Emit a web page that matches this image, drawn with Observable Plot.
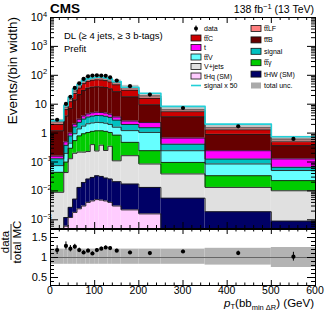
<!DOCTYPE html>
<html><head><meta charset="utf-8">
<script src="https://cdn.jsdelivr.net/npm/d3@7"></script>
<script src="https://cdn.jsdelivr.net/npm/@observablehq/plot@0.6"></script>
<style>
body{margin:0;background:#fff;}
#wrap{position:relative;width:332px;height:325px;overflow:hidden;font-family:"Liberation Sans",Arial,sans-serif;}
#wrap svg{position:absolute;left:0;}
</style></head><body><div id="wrap"></div>
<script>
// ---------- data ----------
const binEdges = [0,30,40,50,60,70,80,90,100,110,120,130,140,160,200,250,350,500,600];
// stacked backgrounds, events / GeV (bottom -> top)
const tHq    = [0.00005,0.0006,0.0012,0.0018,0.0024,0.003,0.004,0.0045,0.005,0.0048,0.0045,0.004,0.003,0.0022,0.0016,0.0004,0.0002,0.0001];
const tHW    = [0.0001,0.0006,0.0015,0.0034,0.0108,0.0166,0.0218,0.0248,0.0285,0.0269,0.0234,0.0218,0.0178,0.0151,0.0116,0.0052,0.0017,0.0008];
const Vjets  = [0.0088,0.042,0.127,0.195,0.207,0.2,0.204,0.37,0.207,0.35,0.222,0.324,0.089,0.148,0.072,0.033,0.0113,0.0092];
const ttgam  = [0.035,0.056,0.17,0.35,0.58,0.73,0.82,0.75,0.96,0.82,0.9,0.7,0.74,0.313,0.161,0.058,0.0203,0.0126];
const ttV    = [0.031,0.1,0.15,0.4,0.6,0.8,1.05,1.1,1.15,1.1,1.05,0.95,0.75,0.74,0.81,0.149,0.052,0.028];
const signal = [0.054,0.178,0.346,0.676,0.954,1.31,1.5,1.63,1.71,1.71,1.63,1.5,1.21,0.77,0.48,0.168,0.041,0.015];
const tsingle= [0.03,0.12,0.2,0.4,0.65,0.85,1.0,1.15,1.2,1.15,1.1,1.0,0.8,0.63,0.78,0.258,0.119,0.062];
const ttB    = [1.04,3.4,6.2,12,18.5,26,31.4,34,34.7,34.3,32.6,29.5,23.4,15.4,7.2,3.0,0.66,0.24];
const ttC    = [0.8,2.6,5.0,9.5,14.8,21.5,26,28.5,30,29.5,28,25,20,12.5,6.4,1.85,0.4,0.15];
const ttLF   = [0.45,1.4,2.6,5.0,7.7,11.5,14,14.5,14,14,13.5,12,10,6.5,3.5,0.9,0.23,0.1];
// data
const dataVals  = [2.9,10.2,18,36.6,53,75,92,98,100,98,96,85,66,42,21.5,7.4,1.71,0.63];
const ratioVals = [1.185,1.29,1.22,1.27,1.185,1.125,1.17,1.10,1.185,1.22,1.25,1.235,1.17,1.125,1.11,1.15,1.11,1.02];
const ratioErr  = [0.11,0.1,0.08,0.06,0.05,0.045,0.04,0.04,0.04,0.04,0.04,0.04,0.035,0.035,0.035,0.035,0.05,0.11];
// total uncertainty (relative)
const uncUp = [0.21,0.21,0.21,0.21,0.21,0.21,0.21,0.21,0.21,0.21,0.21,0.21,0.21,0.21,0.21,0.21,0.23,0.25];
const uncDn = [0.17,0.17,0.17,0.17,0.17,0.17,0.17,0.17,0.17,0.17,0.17,0.17,0.17,0.17,0.17,0.17,0.19,0.25];
const signalScale = 50;

const layerVals   = [tHq,tHW,Vjets,ttgam,ttV,signal,tsingle,ttB,ttC,ttLF];
const layerColors = ["#ffccff","#000066","#e0e0e0","#00cc00","#66ffff","#00c0c0","#ff00ff","#660000","#cc0000","#ff7f7f"];

const xTickVals = [0,100,200,300,400,500,600];
const yDecades = [1e-3,1e-2,1e-1,1,10,100,1e3,1e4];
const yTickLabels = [["10","-3"],["10","-2"],["10","-1"],["1",""],["10",""],["10","2"],["10","3"],["10","4"]];
const ratioTicks = [0.5,1,1.5];

// ---------- build tables ----------
const nb = binEdges.length-1;
const lo = binEdges.slice(0,-1), hi = binEdges.slice(1);
const YMIN = 5e-4, YMAX = 1e4;
const rects = [], steps = [];
const cum = new Array(nb).fill(0);
layerVals.forEach((arr,k)=>{
  for(let i=0;i<nb;i++){
    const b = cum[i], t = cum[i]+arr[i];
    rects.push({x1:lo[i],x2:hi[i],y1:Math.max(b,1e-7),y2:t,layer:k});
    steps.push({x:lo[i],y:t,layer:k},{x:hi[i],y:t,layer:k});
    cum[i]=t;
  }
});
const total = cum.slice();
const bins = d3.range(nb).map(i=>({x1:lo[i],x2:hi[i],xc:(lo[i]+hi[i])/2,tot:total[i],
  up:uncUp[i],dn:uncDn[i],d:dataVals[i],r:ratioVals[i],re:ratioErr[i],s:signal[i]*signalScale}));
const sigSteps = bins.flatMap(b=>[{x:b.x1,y:b.s},{x:b.x2,y:b.s}]);

// minor ticks
const xMinor = d3.range(0,601,20).filter(v=>v%100!==0);
const yMinor = [];
for(let e=-4;e<4;e++) for(let m=2;m<10;m++){const v=m*Math.pow(10,e); if(v>YMIN&&v<YMAX) yMinor.push(v);}
const rMinor = d3.range(0.3,1.71,0.1).map(v=>+v.toFixed(2)).filter(v=>!ratioTicks.includes(v));

const W=332, mL=50, mR=17;
const mainTop=17, mainBottom=228;
const FH = mainBottom-mainTop, FW = W-mL-mR;

const mainPlot = Plot.plot({
  width:W, height:mainBottom+1, marginLeft:mL, marginRight:mR, marginTop:mainTop, marginBottom:1,
  style:{background:"transparent",overflow:"visible"},
  x:{domain:[0,600], axis:null},
  y:{type:"log", domain:[YMIN,YMAX], axis:null},
  marks:[
    Plot.rect(rects,{x1:"x1",x2:"x2",y1:"y1",y2:"y2",fill:d=>layerColors[d.layer],clip:true}),
    Plot.line(steps,{x:"x",y:"y",z:"layer",stroke:"#1a1a1a",strokeWidth:0.9,clip:true}),
    Plot.rect(bins,{x1:"x1",x2:"x2",y1:d=>d.tot*(1-d.dn),y2:d=>d.tot*(1+d.up),fill:"#8a8a8a",fillOpacity:0.5,clip:true}),
    Plot.line(sigSteps,{x:"x",y:"y",stroke:"#22d0d8",strokeWidth:1.6,clip:true}),
    Plot.ruleX(bins,{x:"xc",y1:d=>d.d*(1-d.re/d.r),y2:d=>d.d*(1+d.re/d.r),stroke:"black",strokeWidth:1}),
    Plot.dot(bins,{x:"xc",y:"d",r:2.1,fill:"black"}),
    // inner ticks
    Plot.ruleX(xTickVals,{insetTop:FH-6,stroke:"black"}),
    Plot.ruleX(xTickVals,{insetBottom:FH-6,stroke:"black"}),
    Plot.ruleX(xMinor,{insetTop:FH-3,stroke:"black"}),
    Plot.ruleX(xMinor,{insetBottom:FH-3,stroke:"black"}),
    Plot.ruleY(yDecades,{insetRight:FW-8,stroke:"black"}),
    Plot.ruleY(yDecades,{insetLeft:FW-8,stroke:"black"}),
    Plot.ruleY(yMinor,{insetRight:FW-4,stroke:"black"}),
    Plot.ruleY(yMinor,{insetLeft:FW-4,stroke:"black"}),
    Plot.frame({stroke:"black",strokeWidth:1})
  ]
});
mainPlot.style.top="0px";

const rTop=229, rBottom=285, RH=rBottom-rTop;
const ratioPlot = Plot.plot({
  width:W, height:325-228, marginLeft:mL, marginRight:mR, marginTop:rTop-228, marginBottom:325-rBottom,
  style:{background:"transparent",overflow:"visible"},
  x:{domain:[0,600], axis:null},
  y:{domain:[0.3,1.7], axis:null},
  marks:[
    Plot.rect(bins,{x1:"x1",x2:"x2",y1:d=>1-d.dn,y2:d=>1+d.up,fill:"#b3b3b3"}),
    Plot.ruleY([1],{stroke:"#666",strokeWidth:1}),
    Plot.ruleX(bins,{x:"xc",y1:d=>d.r-d.re,y2:d=>d.r+d.re,stroke:"black",strokeWidth:1}),
    Plot.dot(bins,{x:"xc",y:"r",r:2.1,fill:"black"}),
    Plot.ruleX(xTickVals,{insetTop:RH-5,stroke:"black"}),
    Plot.ruleX(xTickVals,{insetBottom:RH-5,stroke:"black"}),
    Plot.ruleX(xMinor,{insetTop:RH-2.5,stroke:"black"}),
    Plot.ruleX(xMinor,{insetBottom:RH-2.5,stroke:"black"}),
    Plot.ruleY(ratioTicks,{insetRight:FW-8,stroke:"black"}),
    Plot.ruleY(ratioTicks,{insetLeft:FW-8,stroke:"black"}),
    Plot.ruleY(rMinor,{insetRight:FW-4,stroke:"black"}),
    Plot.ruleY(rMinor,{insetLeft:FW-4,stroke:"black"}),
    Plot.frame({stroke:"black",strokeWidth:1})
  ]
});
ratioPlot.style.top="228px";

const wrap = document.getElementById("wrap");
wrap.appendChild(mainPlot);
wrap.appendChild(ratioPlot);

// ---------- text overlay ----------
const ys = mainPlot.scale("y"), ry = ratioPlot.scale("y"), rx = ratioPlot.scale("x");
const ov = d3.select(wrap).append("svg").attr("width",W).attr("height",325)
  .style("top","0px").style("pointer-events","none")
  .style("font-family","Liberation Sans, Arial, sans-serif");

// main y tick labels
yDecades.forEach((v,i)=>{
  const [b,e]=yTickLabels[i];
  ov.append("text").attr("x",e?43:47).attr("y",ys.apply(v)+4).attr("text-anchor","end")
    .attr("font-size",11).text(b);
  if(e){ ov.append("text").attr("x",43).attr("y",ys.apply(v)-0.5).attr("font-size",7.5).text(e.replace("-","\u2212")); }
});
// ratio y tick labels
ratioTicks.forEach(v=>{
  ov.append("text").attr("x",47).attr("y",228+ry.apply(v)+4).attr("text-anchor","end").attr("font-size",11).text(String(v));
});
// x tick labels
xTickVals.forEach(v=>{
  ov.append("text").attr("x",rx.apply(v)).attr("y",294).attr("text-anchor","middle").attr("font-size",10.5).text(String(v));
});

// titles
ov.append("text").attr("x",50).attr("y",13).attr("font-size",13.5).attr("font-weight","bold").text("CMS");
const lumi = ov.append("text").attr("x",314).attr("y",13).attr("text-anchor","end").attr("font-size",10.5);
lumi.append("tspan").text("138 fb");
lumi.append("tspan").attr("dy",-4).attr("font-size",7.5).text("\u22121");
lumi.append("tspan").attr("dy",4).text(" (13 TeV)");

ov.append("text").attr("x",64).attr("y",38.5).attr("font-size",9.5).text("DL (\u2265 4 jets, \u2265 3 b-tags)");
ov.append("text").attr("x",64).attr("y",52).attr("font-size",9.5).text("Prefit");

// y title
ov.append("text").attr("transform","translate(17,17) rotate(-90)").attr("text-anchor","end")
  .attr("font-size",13.5).text("Events/(bin width)");
// ratio title (fraction)
const fr = ov.append("g").attr("transform","translate(11,242) rotate(-90)");
fr.append("text").attr("x",0).attr("y",-2.5).attr("text-anchor","middle").attr("font-size",11.5).text("data");
fr.append("line").attr("x1",-18).attr("x2",18).attr("y1",0).attr("y2",0).attr("stroke","black").attr("stroke-width",0.8);
fr.append("text").attr("x",0).attr("y",9.5).attr("text-anchor","middle").attr("font-size",11.5).text("total MC");

// x title
const xt = ov.append("text").attr("x",314).attr("y",306.5).attr("text-anchor","end").attr("font-size",11.5);
xt.append("tspan").attr("font-style","italic").text("p");
xt.append("tspan").attr("dy",2.5).attr("font-size",7.5).text("T");
xt.append("tspan").attr("dy",-2.5).text("(bb");
xt.append("tspan").attr("dy",3.5).attr("font-size",7.5).text("min \u0394R");
xt.append("tspan").attr("dy",-3.5).text(") (GeV)");

// legend
const legL = [
  {name:"data",type:"data"},
  {name:"tt\u0305C",color:layerColors[8]},
  {name:"t",color:layerColors[6]},
  {name:"tt\u0305V",color:layerColors[4]},
  {name:"V+jets",color:layerColors[2]},
  {name:"tHq (SM)",color:layerColors[0]},
  {name:"signal x 50",type:"line"}
];
const legR = [
  {name:"tt\u0305LF",color:layerColors[9]},
  {name:"tt\u0305B",color:layerColors[7]},
  {name:"signal",color:layerColors[5]},
  {name:"tt\u0305\u03b3",color:layerColors[3]},
  {name:"tHW (SM)",color:layerColors[1]},
  {name:"total unc.",color:"#aaaaaa",noStroke:true}
];
function drawLegend(items,x0,yTop,yBot){
  const step=(yBot-yTop)/(items.length-1);
  items.forEach((it,i)=>{
    const y=yTop+i*step;
    if(it.type==="data"){
      ov.append("circle").attr("cx",x0+5).attr("cy",y).attr("r",2).attr("fill","black");
      ov.append("line").attr("x1",x0+5).attr("x2",x0+5).attr("y1",y-3).attr("y2",y+3).attr("stroke","black");
    } else if(it.type==="line"){
      ov.append("line").attr("x1",x0).attr("x2",x0+10).attr("y1",y).attr("y2",y).attr("stroke","#22d0d8").attr("stroke-width",1.6);
    } else {
      ov.append("rect").attr("x",x0).attr("y",y-3).attr("width",10).attr("height",6).attr("fill",it.color)
        .attr("stroke",it.noStroke?"none":"#111").attr("stroke-width",0.8);
    }
    ov.append("text").attr("x",x0+13).attr("y",y+2.5).attr("font-size",7).text(it.name);
  });
}
drawLegend(legL,191,28.5,85.5);
drawLegend(legR,251,28.5,85.5);
</script></body></html>
